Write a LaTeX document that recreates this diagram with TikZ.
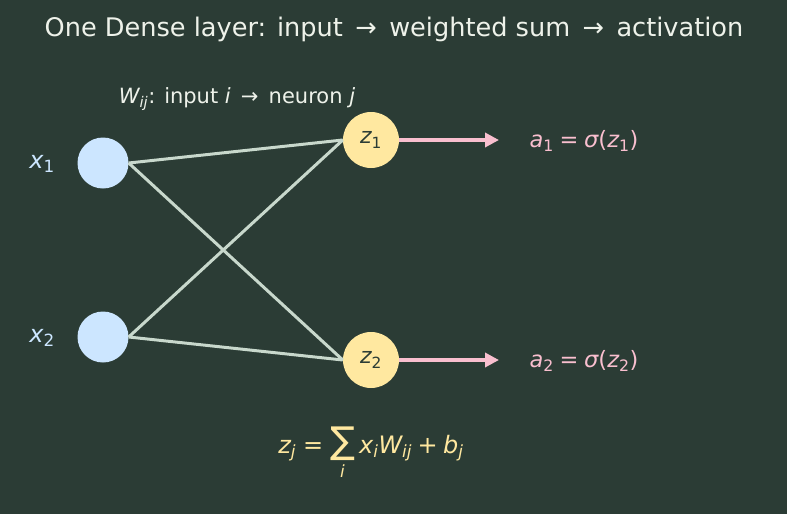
\documentclass[tikz,border=0pt]{standalone}
\usepackage{fontspec}
\setmainfont{DejaVu Sans}
\usepackage{amsmath}
\usetikzlibrary{arrows.meta}
\definecolor{BoardGreen}{HTML}{2B3C35}
\definecolor{InputBlue}{HTML}{CCE6FF}
\definecolor{SumYellow}{HTML}{FFE8A0}
\definecolor{ActPink}{HTML}{F9BFCF}
\definecolor{WireGrey}{HTML}{C8D8CC}
\definecolor{ChalkWhite}{HTML}{EEF2EA}
\newcommand{\mv}[1]{\text{\itshape #1}}
\newcommand{\up}[1]{\text{#1}}

\begin{document}
\begin{tikzpicture}[
      x=1pt, y=-1pt,
      inp/.style={circle, fill=InputBlue, minimum size=51pt, inner sep=0pt},
      neuron/.style={circle, fill=SumYellow, minimum size=56pt, inner sep=0pt, text=BoardGreen, font=\fontsize{22}{26}\selectfont},
      wire/.style={WireGrey, line width=3pt},
      fire/.style={ActPink, line width=3.5pt, -{Triangle[length=14pt, width=14pt]}},
      lbl/.style={font=\fontsize{22.5}{27}\selectfont}
  ]
    \fill[BoardGreen] (0,0) rectangle (787,514);
    \useasboundingbox (0,0) rectangle (787,514);
    % title and weight note
    \node[ChalkWhite, font=\fontsize{25.6}{30}\selectfont](title) at (394,29){One Dense layer: input \,→\, weighted sum \,→\, activation};
    \node[ChalkWhite, font=\fontsize{21}{25}\selectfont](note) at (237,99){$\mv{W}_{\mv{ij}}$: input \textit{i} \,→\, neuron \textit{j}};
    % inputs
    \node[inp](x1) at (103,163){};
    \node[inp](x2) at (103,337){};
    \node[lbl, InputBlue, font=\fontsize{24}{28}\selectfont](lx1) at (42,164){$\mv{x}_{\up{1}}$};
    \node[lbl, InputBlue, font=\fontsize{24}{28}\selectfont](lx2) at (42,338){$\mv{x}_{\up{2}}$};
    % neurons
    \node[neuron](z1) at (371,140){$\mv{z}_{\up{1}}$};
    \node[neuron](z2) at (371,360){$\mv{z}_{\up{2}}$};
    \draw[wire](x1.east)--(z1.west); \draw[wire](x1.east)--(z2.west);
    \draw[wire](x2.east)--(z1.west); \draw[wire](x2.east)--(z2.west);
    % activations
    \coordinate(o1) at (499,140);
    \coordinate(o2) at (499,360);
    \draw[fire](z1.east)--(o1); \draw[fire](z2.east)--(o2);
    \node[lbl, ActPink, anchor=west](a1) at (526,141){$\mv{a}_{\up{1}} \mathrel{\up{=}} \mv{σ}\up{(}\mv{z}_{\up{1}}\up{)}$};
    \node[lbl, ActPink, anchor=west](a2) at (526,361){$\mv{a}_{\up{2}} \mathrel{\up{=}} \mv{σ}\up{(}\mv{z}_{\up{2}}\up{)}$};
    % formula
    \node[SumYellow, font=\fontsize{24}{28}\selectfont](sum) at (371,453){$\mv{z}_{\mv{j}} \mathrel{\up{=}} \mathop{\text{\fontsize{37}{37}\selectfont ∑}}\limits_{\mv{i}} \mv{x}_{\mv{i}}\mv{W}_{\mv{ij}} \mathbin{\up{+}} \mv{b}_{\mv{j}}$};
  \end{tikzpicture}
\end{document}
